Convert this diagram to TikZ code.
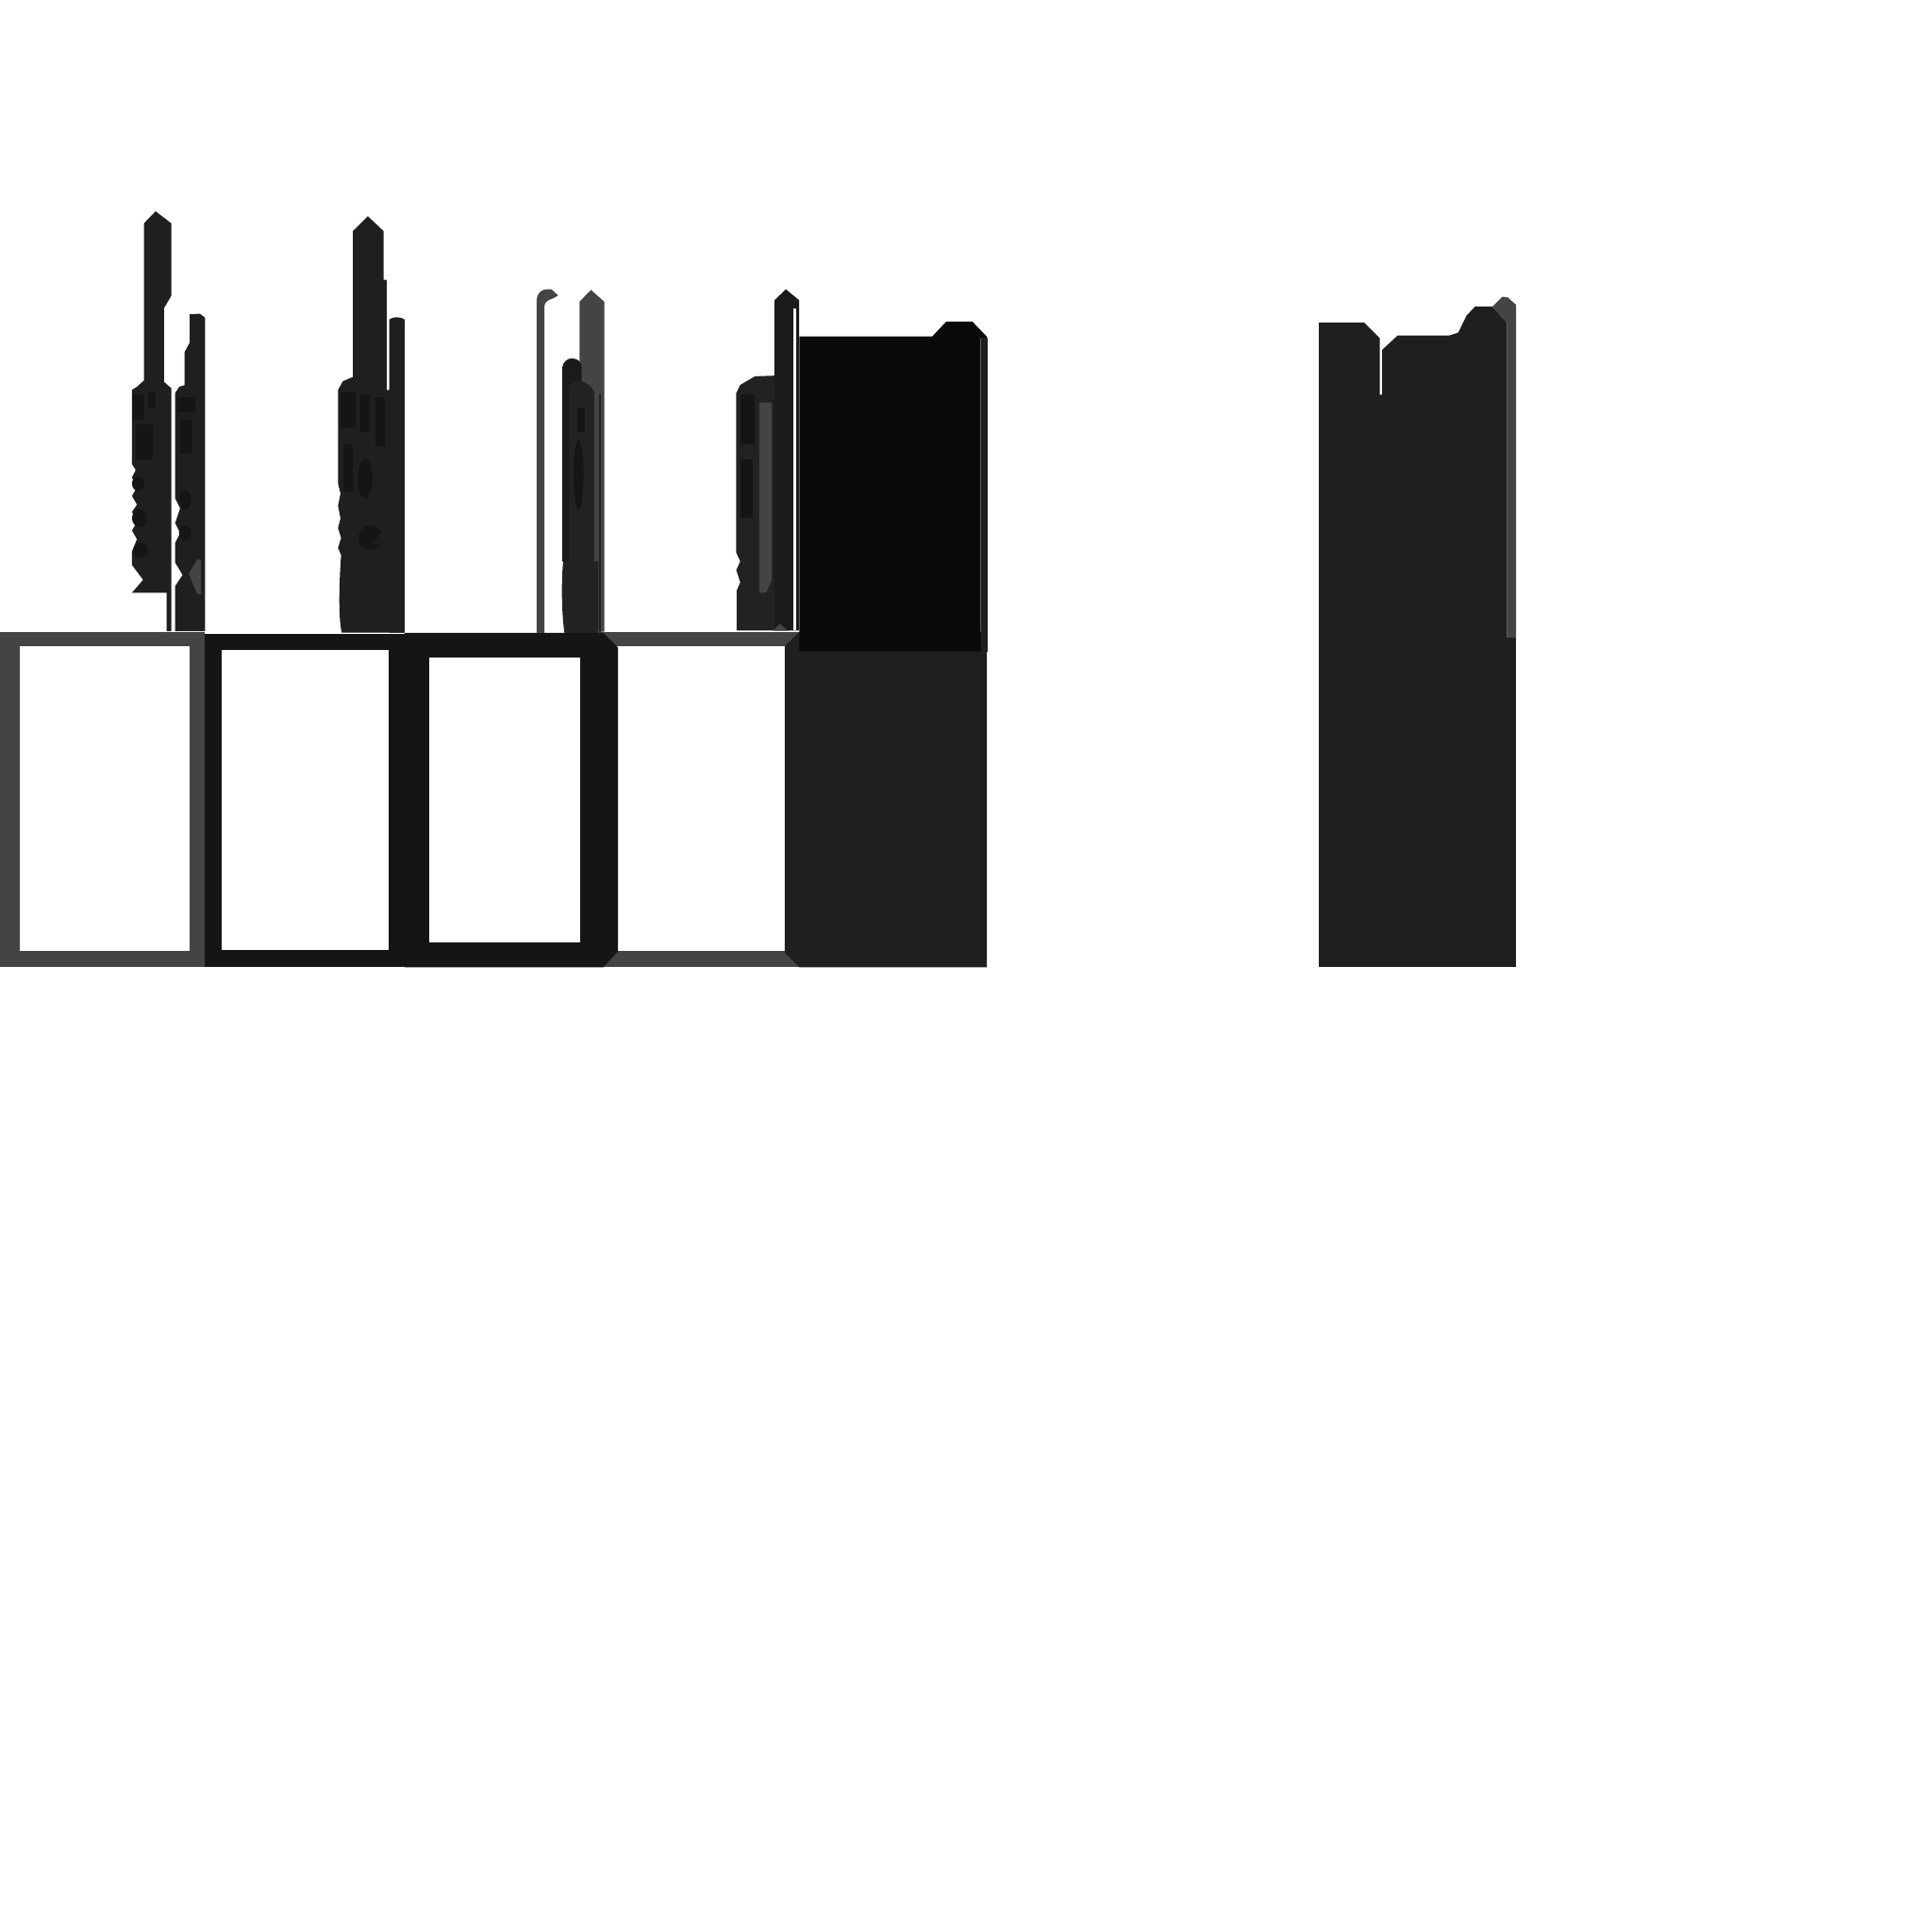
\documentclass[tikz,border=0pt]{standalone}
\usepackage{xcolor}
\usepackage{tikz}
\definecolor{frameGray}{RGB}{68,68,68}
\definecolor{inkDark}{RGB}{31,31,31}
\definecolor{inkDeep}{RGB}{21,21,21}
\definecolor{inkBar}{RGB}{26,26,26}
\definecolor{inkBlack}{RGB}{10,10,10}
\definecolor{inkBody}{RGB}{34,34,34}

\begin{document}
\begin{tikzpicture}[x=0.1mm,y=-0.1mm,
    graypart/.style={fill=frameGray},
    inkpart/.style={fill=inkDark},
    deeppart/.style={fill=inkDeep},
    paperpart/.style={fill=white}]
    \useasboundingbox (0,0) rectangle (1566,1566);
    \fill[white] (0,0) rectangle (1566,1566);

    % Box row: first two frames
    \fill[graypart] (0,512) rectangle (166,784);
    \fill[paperpart] (16,524) rectangle (154,771);
    \fill[deeppart] (166,514) rectangle (328,784);
    \fill[paperpart] (180,527) rectangle (315,770);

    % Box row: gray frame under its neighbours
    \fill[graypart] (470,512) rectangle (648,784);
    \fill[paperpart] (482,524) rectangle (636,771);
    % chamfered dark frame
    \fill[deeppart] (328,513) -- (489,513) -- (501,525) -- (501,771) -- (489,784) -- (328,784) -- cycle;
    \fill[paperpart] (348,533) rectangle (470,764);
    % filled box
    \fill[inkpart] (636,524) -- (648,512) -- (800,512) -- (800,784) -- (648,784) -- (636,772) -- cycle;

    % Column 1
    \fill[inkpart] (116.7,181) -- (126.1,171.3) -- (138.9,181) -- (138.9,239.6) -- (133,249.7)
        -- (133,309.6) -- (138.9,314.7) -- (138.9,511.7) -- (135,511.7) -- (135,480.4) -- (107,480.4)
        -- (116,470) -- (107,458) -- (107,447) -- (111,437) -- (107,430) -- (111,423) -- (107,415)
        -- (111,409) -- (107,402) -- (111,395) -- (107,387) -- (110,381) -- (107,376)
        -- (107,316) -- (111,313.5) -- (116.7,308.4) -- cycle;
    \fill[inkpart] (153.7,254.8) -- (162,254.3) -- (166.2,257.5) -- (166.2,511.7) -- (142,511.7)
        -- (142,475) -- (148,466) -- (142,456) -- (142,440) -- (146,432) -- (142,424) -- (146,412)
        -- (142,404) -- (142,318.5) -- (145.3,313.5) -- (149.6,312.2) -- (149.6,285.4) -- (153.7,277.8) -- cycle;
    \fill[graypart] (152.9,465) -- (160,453.6) -- (163,453.6) -- (163,481.7) -- (160,481.7) -- cycle;
    % texture
    \fill[deeppart] (108,320) rectangle (117,340);
    \fill[deeppart] (120,318) rectangle (126,330);
    \fill[deeppart] (110,344) rectangle (124,372);
    \fill[deeppart] (144,322) rectangle (158,334);
    \fill[deeppart] (146,340) rectangle (156,368);
    \fill[deeppart] (112,392) ellipse (5 and 6);
    \fill[deeppart] (113,420) ellipse (6 and 7);
    \fill[deeppart] (114,446) ellipse (6 and 6);
    \fill[deeppart] (150,405) ellipse (5 and 8);
    \fill[deeppart] (150,432) ellipse (5 and 6);

    % Column 2
    \fill[inkpart] (286,187.3) -- (298.2,175.3) -- (310.9,187.3) -- (310.9,226.8) -- (313.5,226.8)
        -- (313.5,316) -- (328,316) -- (328,512.8) -- (277,512.8)
        .. controls (274,500) and (275,470) .. (276.5,450) -- (274,444) -- (276.5,436) -- (274,428)
        -- (276,420) -- (274,410) -- (276,400) -- (274,392) -- (274,316)
        -- (278,309) -- (285.4,305.8) -- (286,305.8) -- cycle;
    \fill[inkpart] (315.5,259) .. controls (318,256.5) and (325,256.5) .. (328,259) -- (328,512.8) -- (315.5,512.8) -- cycle;
    % texture
    \fill[deeppart] (276,318) rectangle (288,346);
    \fill[deeppart] (292,320) rectangle (300,350);
    \fill[deeppart] (304,322) rectangle (312,362);
    \fill[deeppart] (278,360) rectangle (286,398);
    \fill[deeppart] (296,388) ellipse (6 and 16);
    \fill[deeppart] (309,441) arc[start angle=30,end angle=330,radius=10] -- (302,441) -- cycle;

    % Column 3
    \fill[graypart] (435,513) -- (435,243) .. controls (435,238) and (439,234.5) .. (443,234.5) -- (447,234.5)
        -- (452.4,239.5) -- (448,242) .. controls (444,243) and (441.2,245) .. (441.2,249) -- (441.2,513) -- cycle;
    \fill[graypart] (469.7,244.6) -- (479,235) -- (489.8,244.6) -- (489.8,512) -- (469.7,512) -- cycle;
    \fill[inkBar] (455.7,455) -- (455.7,298) .. controls (456.5,293) and (460,290.5) .. (463.5,290.5)
        .. controls (468,290.5) and (471.5,293) .. (471.5,298) -- (471.5,455) -- cycle;
    \fill[inkBody] (461.3,312) .. controls (470,306) and (478,310) .. (481.7,318) -- (481.7,455) -- (461.3,455) -- cycle;
    \fill[inkBody] (485.5,320) rectangle (487,512);
    \fill[deeppart] (468,330) rectangle (474,350);
    \fill[deeppart] (469,385) ellipse (4 and 28);
    \fill[inkBody] (456.5,455) -- (485,455) -- (485,513) -- (457.5,513) .. controls (455,495) and (455,470) .. (456.5,455) -- cycle;

    % Column 4
    \fill[inkBody] (627,304.5) -- (612,305) -- (600,312) -- (596.8,318.5) -- (596.8,448) -- (600,455) -- (596.8,462)
        -- (600,472) -- (597,479) -- (597,511) -- (640,511) -- (640,304.5) -- cycle;
    \fill[deeppart] (600,320) rectangle (612,360);
    \fill[deeppart] (600,372) rectangle (610,420);
    \fill[graypart] (615.4,326.2) -- (625.6,326.2) -- (625.6,470) -- (621,480.4) -- (615.4,480.4) -- cycle;
    \fill[inkBar] (627.7,243.4) -- (637,234.5) -- (647.8,243.4) -- (647.8,511) -- (627.7,511) -- cycle;
    \fill[paperpart] (643,249.7) rectangle (645.3,511);
    \fill[graypart] (627,511) -- (632,505.4) -- (638.4,511) -- cycle;

    % Black block with tab
    \fill[inkBlack] (648,272.7) -- (755.6,272.7) -- (767,260.7) -- (788.2,260.7) -- (799.7,272.7)
        -- (799.7,274) -- (795,274) -- (795,528) -- (648,528) -- cycle;
    \fill[inkpart] (795,274) rectangle (800.5,528);

    % Right column
    \fill[inkpart] (1069,261.5) -- (1105.7,261.5) -- (1118.3,274) -- (1118.3,320) -- (1120.3,320)
        -- (1120.3,283.6) -- (1132.8,272) -- (1174.5,272) -- (1182,269.6) -- (1188.6,256) -- (1195.6,248.5)
        -- (1209.7,248.5) -- (1221.7,262) -- (1221.7,517) -- (1069,517) -- cycle;
    \fill[graypart] (1209.7,248.5) -- (1217.7,240.5) -- (1222,241) -- (1228.8,247) -- (1228.8,517)
        -- (1221.7,517) -- (1221.7,262) -- cycle;
    \fill[inkpart] (1069,517) rectangle (1228.8,784);
\end{tikzpicture}
\end{document}
